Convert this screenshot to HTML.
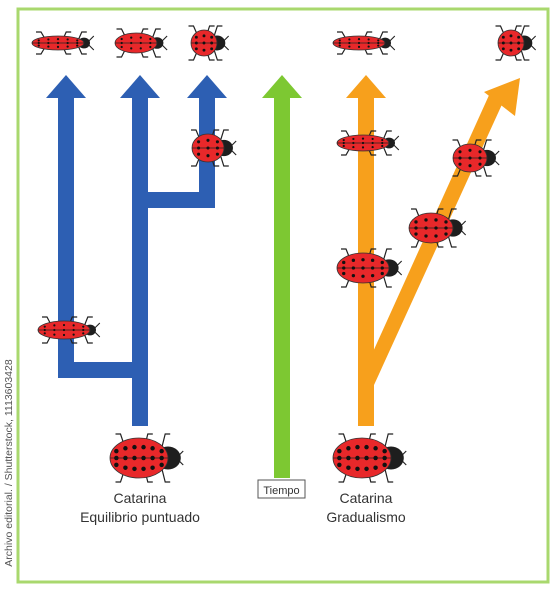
<!DOCTYPE html>
<html><head><meta charset="utf-8"><style>
html,body{margin:0;padding:0;background:#fff}
svg{display:block}
text{font-family:"Liberation Sans",sans-serif}
</style></head><body>
<svg id="s" width="557" height="589" viewBox="0 0 557 589">
<rect x="18" y="9" width="530" height="573" fill="#fff" stroke="#a9d86e" stroke-width="3"/>
<g fill="#2d5fb3">
<rect x="58" y="98" width="16" height="280"/><rect x="58" y="362" width="90" height="16"/>
<rect x="132" y="98" width="16" height="328"/>
<rect x="199" y="98" width="16" height="110"/><rect x="132" y="192" width="83" height="16"/>
<polygon points="46,98 86,98 66,75"/><polygon points="120,98 160,98 140,75"/><polygon points="187,98 227,98 207,75"/>
</g>
<g fill="#7dc832">
<rect x="274" y="98" width="16" height="380"/><polygon points="262,98 302,98 282,75"/>
</g>
<g fill="#f7a01c">
<rect x="358" y="98" width="16" height="328"/><polygon points="346,98 386,98 366,75"/>
<polygon points="358,385 374,385 504,100 490,93"/>
<polygon points="484,92 520,78 515,116"/>
</g>
<rect x="258" y="480" width="47" height="18" fill="#fff" stroke="#555"/>
<text x="281.5" y="494" font-size="11" text-anchor="middle" fill="#333">Tiempo</text>
<text x="140" y="503" font-size="14" text-anchor="middle" fill="#333">Catarina</text>
<text x="140" y="522" font-size="14" text-anchor="middle" fill="#333">Equilibrio puntuado</text>
<text x="366" y="503" font-size="14" text-anchor="middle" fill="#333">Catarina</text>
<text x="366" y="522" font-size="14" text-anchor="middle" fill="#333">Gradualismo</text>
<text transform="translate(12,463) rotate(-90)" font-size="10.5" text-anchor="middle" fill="#555">Archivo editorial. / Shutterstock, 1113603428</text>
<g id="bugs"></g>
</svg>
<script>
const bugX=[62,140,208,363,515,212,68,143,367,367,435,474,366];
const bugY=[43,43,43,43,43,148,330,458,143,268,228,158,458];
const bugL=[52,42,26,52,26,32,52,58,52,52,44,34,58];
const bugW=[14,20,26,14,26,28,18,40,16,30,30,28,40];
const NS="http://www.w3.org/2000/svg";
const g=document.getElementById('bugs');
function mk(t,a,p){const e=document.createElementNS(NS,t);for(const k in a)e.setAttribute(k,a[k]);p.appendChild(e);return e;}
for(let i=0;i<bugX.length;i++){
  const L=bugL[i],W=bugW[i];
  const b=mk('g',{transform:`translate(${bugX[i]-4},${bugY[i]})`},g);
  
  
  const hx=L/2, hs=Math.max(6,W*0.32);
  const legs=[[-L*0.25,-1],[-L*0.25,1],[L*0.1,-1],[L*0.1,1],[L*0.4,-1],[L*0.4,1]];
  legs.forEach(([x,s],j)=>{mk('path',{d:`M${x} ${s*W*0.3} l${j<2?-4:3} ${s*(W*0.2+4)} l${j<2?-5:5} 0`,stroke:'#222','stroke-width':1.2,fill:'none'},b);});
  mk('path',{d:`M${hx+hs*0.8} ${-2} l5 -5 M${hx+hs*0.8} 2 l5 5`,stroke:'#222','stroke-width':1.1,fill:'none'},b);
  mk('ellipse',{cx:hx,cy:0,rx:hs,ry:hs*0.9,fill:'#1e1e1e'},b);
  mk('ellipse',{cx:0,cy:0,rx:L/2,ry:W/2,fill:'#e8282a',stroke:'#333','stroke-width':0.8},b);
  mk('line',{x1:-L/2,y1:0,x2:L/2,y2:0,stroke:'#222','stroke-width':0.8},b);
  const n=Math.max(3,Math.round(L/10));
  for(let k=0;k<n;k++){const x=-L/2+L*(k+0.7)/(n+0.4);
    [-0.55,0,0.55].forEach(f=>{const rr=1-Math.pow(x/(L/2),2);if(rr>0.1)mk('circle',{cx:x,cy:f*W/2*Math.sqrt(rr),r:Math.max(1.1,W/18),fill:'#111'},b);});}
}
</script>
</body></html>
